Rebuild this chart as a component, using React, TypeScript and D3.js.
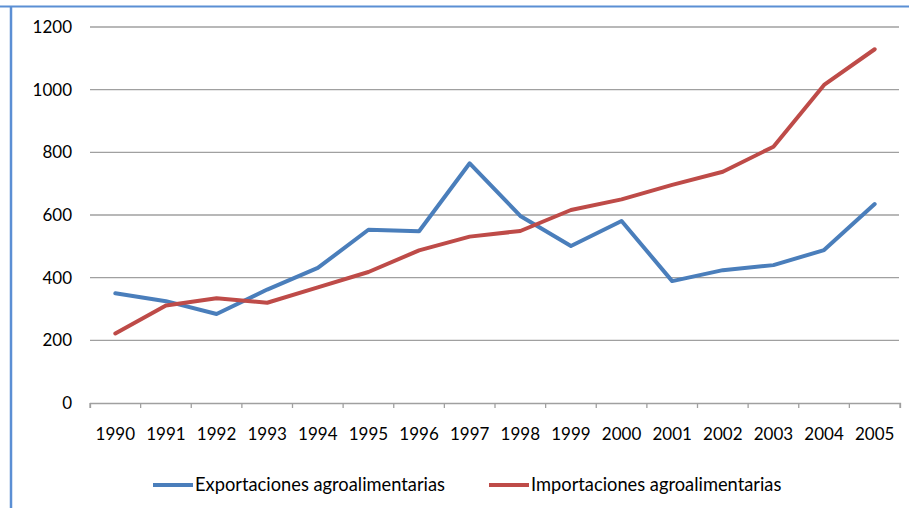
import React, { useEffect, useRef } from "react";
import * as d3 from "d3";

// years on the category axis
const years = [
  "1990", "1991", "1992", "1993", "1994", "1995", "1996", "1997",
  "1998", "1999", "2000", "2001", "2002", "2003", "2004", "2005",
];
// values
const exportaciones = [
  350, 325, 284, 362, 431, 553, 548, 765, 597, 501, 581, 389, 424, 440, 488, 635,
];
const importaciones = [
  222, 311, 334, 320, 369, 418, 487, 531, 549, 616, 650, 696, 738, 818, 1015, 1129,
];
const yTicks = [0, 200, 400, 600, 800, 1000, 1200];

const seriesNames = ["Exportaciones agroalimentarias", "Importaciones agroalimentarias"];
const colors = ["#4a7ebb", "#be4b48"];

const W = 909;
const H = 508;
const FONT = "Lato, 'Open Sans', sans-serif";

const App = () => {
  const svgRef = useRef<SVGSVGElement>(null);

  useEffect(() => {
    const svg = d3.select(svgRef.current);
    svg.selectAll("*").remove();

    const x = d3.scaleBand().domain(years).range([90, 900]);
    const y = d3.scaleLinear().domain([0, 1200]).range([403, 27]);

    // frame
    svg.append("line")
      .attr("x1", 0).attr("x2", W).attr("y1", 6.5).attr("y2", 6.5)
      .attr("stroke", "#5b8fd4").attr("stroke-width", 2);
    svg.append("line")
      .attr("x1", 11).attr("x2", 11).attr("y1", 6).attr("y2", H)
      .attr("stroke", "#5b8fd4").attr("stroke-width", 2.5);

    // gridlines
    svg.append("g")
      .selectAll("line")
      .data(yTicks.filter(d => d > 0))
      .join("line")
      .attr("x1", 90).attr("x2", 899)
      .attr("y1", d => y(d)).attr("y2", d => y(d))
      .attr("stroke", "#a0a0a0").attr("stroke-width", 1.3);

    // y labels
    svg.append("g")
      .selectAll("text")
      .data(yTicks)
      .join("text")
      .attr("x", 72)
      .attr("y", d => y(d))
      .attr("dy", "0.35em")
      .attr("text-anchor", "end")
      .attr("font-family", FONT)
      .attr("font-size", 17)
      .attr("fill", "#000")
      .text(d => d);

    // x axis
    const xAxis = d3.axisBottom(x).tickSize(5).tickSizeOuter(5).tickFormat(() => "");
    const gx = svg.append("g").attr("transform", "translate(0,403)").call(xAxis);
    gx.select(".domain").attr("stroke", "#a0a0a0").attr("stroke-width", 1.3);
    gx.selectAll(".tick line").attr("stroke", "#a0a0a0").attr("stroke-width", 1.3)
      .attr("transform", () => `translate(${-x.bandwidth() / 2},0)`);
    // last tick at range end
    gx.append("line")
      .attr("x1", 900).attr("x2", 900).attr("y1", 0).attr("y2", 5)
      .attr("stroke", "#a0a0a0").attr("stroke-width", 1.3);

    svg.append("g")
      .selectAll("text")
      .data(years)
      .join("text")
      .attr("x", d => (x(d) as number) + x.bandwidth() / 2)
      .attr("y", 440)
      .attr("text-anchor", "middle")
      .attr("font-family", FONT)
      .attr("font-size", 17)
      .attr("fill", "#000")
      .text(d => d);

    // lines
    const line = d3.line<number>()
      .x((d, i) => (x(years[i]) as number) + x.bandwidth() / 2)
      .y(d => y(d));

    [exportaciones, importaciones].forEach((s, i) => {
      svg.append("path")
        .attr("d", line(s))
        .attr("fill", "none")
        .attr("stroke", colors[i])
        .attr("stroke-width", 4)
        .attr("stroke-linejoin", "round")
        .attr("stroke-linecap", "round");
    });

    // legend
    const legendX = [153, 489];
    seriesNames.forEach((name, i) => {
      const g = svg.append("g").attr("transform", `translate(${legendX[i]},485)`);
      g.append("line")
        .attr("x1", 0).attr("x2", 40).attr("y1", 0).attr("y2", 0)
        .attr("stroke", colors[i]).attr("stroke-width", 4);
      g.append("text")
        .attr("x", 42)
        .attr("y", 0)
        .attr("dy", "0.35em")
        .attr("font-family", FONT)
        .attr("font-size", 18.3)
        .attr("fill", "#000")
        .text(name);
    });
  }, []);

  return (
    <svg
      ref={svgRef}
      width={W}
      height={H}
      style={{ position: "absolute", left: 0, top: 0, background: "#fff" }}
    />
  );
};

export default App;
